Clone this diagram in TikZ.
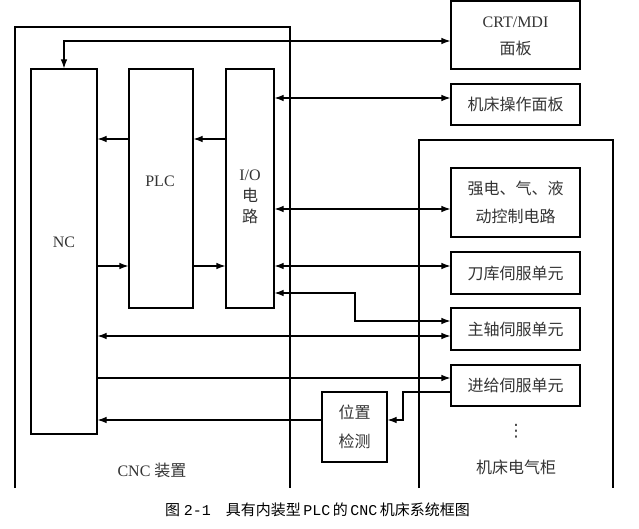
\documentclass[tikz,border=0pt]{standalone}
\usepackage{fontspec}
\setmainfont{Liberation Serif}
\newfontfamily\cjk{Noto Sans CJK SC}
\newfontfamily\mono{Liberation Mono}
\newfontfamily\dejavu{DejaVu Sans}
\usetikzlibrary{arrows.meta}
\begin{document}
\begin{tikzpicture}[x=1pt,y=-1pt,
  box/.style={draw, line width=1.1pt, inner sep=0pt},
  lbl/.style={font=\fontsize{16}{20}\selectfont, text=black!80, align=center},
  conn/.style={line width=1.1pt},
  tip/.style={-{Latex[length=9pt,width=6.5pt]}},
  tips/.style={{Latex[length=9pt,width=6.5pt]}-{Latex[length=9pt,width=6.5pt]}},
  frame/.style={line width=1.1pt}]
\useasboundingbox (0,0) rectangle (639,529);
% outer frames
\draw[frame] (15,488) -- (15,27) -- (290,27) -- (290,488);
\draw[frame] (419,488) -- (419,140) -- (613,140) -- (613,488);
% internal boxes
\node[box, minimum width=66pt, minimum height=365pt] (NC) at (64,251.5) {};
\node[box, minimum width=64pt, minimum height=239pt] (PLC) at (161,188.5) {};
\node[box, minimum width=48pt, minimum height=239pt] (IO) at (250,188.5) {};
\node[lbl] (ncl) at (64,242) {NC};
\node[lbl] (plcl) at (160,181) {PLC};
\node[lbl, font=\fontsize{16}{21}\selectfont] (iol) at (250,197) {I/O\\{\cjk 电}\\{\cjk 路}};
% external boxes
\node[box, minimum width=129pt, minimum height=68pt] (CRT) at (515.5,35) {};
\node[lbl, font=\fontsize{16}{27}\selectfont] (crtl) at (515.5,36) {CRT/MDI\\{\cjk 面板}};
\node[box, minimum width=129pt, minimum height=41pt, lbl] (OP) at (515.5,104.5) {\cjk 机床操作面板};
\node[box, minimum width=129pt, minimum height=69pt, lbl, font=\fontsize{16}{28}\selectfont] (STR) at (515.5,202.5) {\cjk 强电、气、液\\\cjk 动控制电路};
\node[box, minimum width=129pt, minimum height=42pt, lbl] (TOOL) at (515.5,273) {\cjk 刀库伺服单元};
\node[box, minimum width=129pt, minimum height=42pt, lbl] (SP) at (515.5,329) {\cjk 主轴伺服单元};
\node[box, minimum width=129pt, minimum height=41pt, lbl] (FEED) at (515.5,385.5) {\cjk 进给伺服单元};
\node[box, minimum width=65pt, minimum height=70pt, lbl, font=\fontsize{16}{29}\selectfont] (POS) at (354.5,427) {\cjk 位置\\\cjk 检测};
\node[lbl, font=\fontsize{17}{20}\selectfont] (dots) at (516,431) {\dejavu ⋮};
\node[lbl] (cab) at (516,467) {\cjk 机床电气柜};
\node[lbl] (cnc) at (152,470) {CNC {\cjk 装置}};
% caption
\node[font=\fontsize{15}{18}\selectfont, anchor=west, inner sep=0pt] (cap) at (165,510)
  {{\cjk 图}\ {\mono 2-1}\quad{\cjk 具有内装型}\,{\mono PLC}\,{\cjk 的}\,{\mono CNC}\,{\cjk 机床系统框图}};
% helper coordinates
\coordinate (y41) at (0,41);
\coordinate (y98) at (0,98);
\coordinate (y139) at (0,139);
\coordinate (y209) at (0,209);
\coordinate (y266) at (0,266);
\coordinate (y293) at (0,293);
\coordinate (y321) at (0,321);
\coordinate (y336) at (0,336);
\coordinate (y378) at (0,378);
\coordinate (y392) at (0,392);
\coordinate (y420) at (0,420);
\coordinate (b1) at (355,293);
\coordinate (b2) at (355,321);
\coordinate (c1) at (403,392);
\coordinate (c2) at (403,420);
% connectors
\draw[conn, tips] (NC.north) |- (CRT.west |- y41);
\draw[conn, tips] (IO.east |- y98) -- (OP.west |- y98);
\draw[conn, tips] (IO.east |- y209) -- (STR.west |- y209);
\draw[conn, tips] (IO.east |- y266) -- (TOOL.west |- y266);
\draw[conn, tips] (IO.east |- y293) -- (b1) -- (b2) -- (SP.west |- y321);
\draw[conn, tips] (NC.east |- y336) -- (SP.west |- y336);
\draw[conn, tip] (NC.east |- y378) -- (FEED.west |- y378);
\draw[conn, tip] (FEED.west |- y392) -- (c1) -- (c2) -- (POS.east |- y420);
\draw[conn, tip] (POS.west |- y420) -- (NC.east |- y420);
\draw[conn, tip] (PLC.west |- y139) -- (NC.east |- y139);
\draw[conn, tip] (IO.west |- y139) -- (PLC.east |- y139);
\draw[conn, tip] (NC.east |- y266) -- (PLC.west |- y266);
\draw[conn, tip] (PLC.east |- y266) -- (IO.west |- y266);
\end{tikzpicture}
\end{document}
